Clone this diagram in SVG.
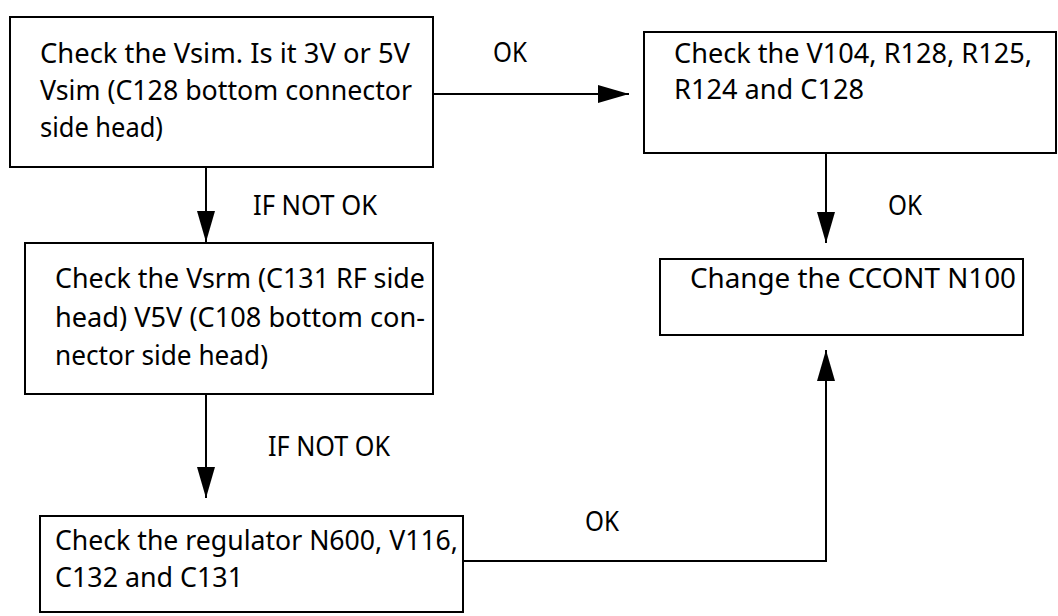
<svg xmlns="http://www.w3.org/2000/svg" width="1058" height="616" viewBox="0 0 1058 616">
<style>
.box{fill:#fff;stroke:#000;stroke-width:2}
.ln{fill:none;stroke:#000;stroke-width:2}
text{font-family:"Noto Sans","Open Sans",sans-serif;font-size:28px;fill:#000}
</style>
<defs>
<marker id="ah" markerWidth="31" markerHeight="18" refX="31" refY="9" orient="auto" markerUnits="userSpaceOnUse">
<path d="M0,0 L31,9 L0,18 Z" fill="#000"/>
</marker>
</defs>
<rect width="1058" height="616" fill="#fff"/>
<g id="connectors">
<line class="ln" x1="433" y1="94" x2="629" y2="94" marker-end="url(#ah)"/>
<line class="ln" x1="826" y1="153" x2="826" y2="243" marker-end="url(#ah)"/>
<line class="ln" x1="206" y1="167" x2="206" y2="242" marker-end="url(#ah)"/>
<line class="ln" x1="206" y1="394" x2="206" y2="498" marker-end="url(#ah)"/>
<polyline class="ln" points="463,561 826,561 826,350" marker-end="url(#ah)"/>
<text x="493" y="62" textLength="34" lengthAdjust="spacingAndGlyphs">OK</text>
<text x="888" y="215" textLength="34" lengthAdjust="spacingAndGlyphs">OK</text>
<text x="253" y="215" textLength="124" lengthAdjust="spacingAndGlyphs">IF NOT OK</text>
<text x="268" y="456" textLength="122" lengthAdjust="spacingAndGlyphs">IF NOT OK</text>
<text x="585" y="531" textLength="34" lengthAdjust="spacingAndGlyphs">OK</text>
</g>
<g id="n1">
<rect class="box" x="10" y="17" width="423" height="150"/>
<text x="40" y="63" textLength="370" lengthAdjust="spacingAndGlyphs">Check the Vsim. Is it 3V or 5V</text>
<text x="40" y="100" textLength="372" lengthAdjust="spacingAndGlyphs">Vsim (C128 bottom connector</text>
<text x="40" y="137" textLength="123" lengthAdjust="spacingAndGlyphs">side head)</text>
</g>
<g id="n2">
<rect class="box" x="644" y="32" width="412" height="121"/>
<text x="674" y="63" textLength="358" lengthAdjust="spacingAndGlyphs">Check the V104, R128, R125,</text>
<text x="674" y="99" textLength="190" lengthAdjust="spacingAndGlyphs">R124 and C128</text>
</g>
<g id="n3">
<rect class="box" x="25" y="243" width="408" height="151"/>
<text x="55" y="288" textLength="370" lengthAdjust="spacingAndGlyphs">Check the Vsrm (C131 RF side</text>
<text x="55" y="327" textLength="370" lengthAdjust="spacingAndGlyphs">head) V5V (C108 bottom con-</text>
<text x="55" y="365" textLength="213" lengthAdjust="spacingAndGlyphs">nector side head)</text>
</g>
<g id="n4">
<rect class="box" x="40" y="516" width="423" height="96"/>
<text x="55" y="550" textLength="403" lengthAdjust="spacingAndGlyphs">Check the regulator N600, V116,</text>
<text x="55" y="587" textLength="188" lengthAdjust="spacingAndGlyphs">C132 and C131</text>
</g>
<g id="n5">
<rect class="box" x="660" y="259" width="363" height="76"/>
<text x="690" y="288" textLength="326" lengthAdjust="spacingAndGlyphs">Change the CCONT N100</text>
</g>
</svg>
